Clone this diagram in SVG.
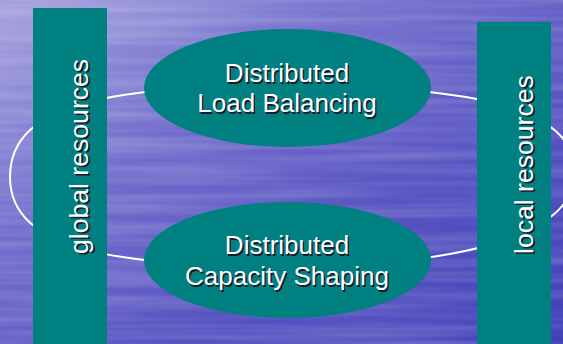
<svg xmlns="http://www.w3.org/2000/svg" width="563" height="344" viewBox="0 0 563 344">
<style>
.shape{fill:#008080;stroke:none}
.lbl{font-family:"Liberation Sans",Arial,sans-serif;font-size:26px;fill:#ffffff}
.shd{font-family:"Liberation Sans",Arial,sans-serif;font-size:26px;fill:#1a1a2a}
.vt{font-size:26.6px}
.loop{fill:none;stroke:#ffffff;stroke-width:2}
</style>
<defs>
<linearGradient id="bg" x1="0" y1="0" x2="1" y2="1">
<stop offset="0" stop-color="#a6a2de"/>
<stop offset="0.35" stop-color="#716dcc"/>
<stop offset="0.7" stop-color="#5450c0"/>
<stop offset="1" stop-color="#4040b8"/>
</linearGradient>
<filter id="tex" x="0" y="0" width="100%" height="100%">
<feTurbulence type="fractalNoise" baseFrequency="0.004 0.12" numOctaves="2" seed="3" result="n"/>
<feColorMatrix in="n" type="matrix" values="0 0 0 0 1  0 0 0 0 1  0 0 0 0 1  0 0 0 0.35 -0.12"/>
</filter>
</defs>
<rect id="background" x="0" y="0" width="563" height="344" fill="url(#bg)"/>
<rect x="0" y="0" width="563" height="344" filter="url(#tex)"/>
<g id="connectors">
<path class="loop" d="M287 86 C120 86 10 100 10 177 C10 252 120 266 287 266 C454 266 575 238 575 172 C575 102 454 86 287 86 Z"/>
</g>
<g id="global-resources">
<rect class="shape" x="33" y="8" width="74" height="336"/>
<text class="shd vt" transform="translate(89.5,255.5) rotate(-90)">global resources</text>
<text class="lbl vt" transform="translate(88,254) rotate(-90)">global resources</text>
</g>
<g id="local-resources">
<rect class="shape" x="477" y="22" width="74" height="322"/>
<text class="shd vt" transform="translate(534.5,255.5) rotate(-90)">local resources</text>
<text class="lbl vt" transform="translate(533,254) rotate(-90)">local resources</text>
</g>
<g id="load-balancing">
<ellipse class="shape" cx="287.5" cy="88" rx="143.5" ry="59"/>
<text class="shd" text-anchor="middle" x="288.5" y="83.5">Distributed</text>
<text class="shd" text-anchor="middle" x="288.5" y="113.5">Load Balancing</text>
<text class="lbl" text-anchor="middle" x="287" y="82">Distributed</text>
<text class="lbl" text-anchor="middle" x="287" y="112">Load Balancing</text>
</g>
<g id="capacity-shaping">
<ellipse class="shape" cx="287.5" cy="260" rx="143.5" ry="58"/>
<text class="shd" text-anchor="middle" x="288.5" y="255.5">Distributed</text>
<text class="shd" text-anchor="middle" x="288.5" y="286.5">Capacity Shaping</text>
<text class="lbl" text-anchor="middle" x="287" y="254">Distributed</text>
<text class="lbl" text-anchor="middle" x="287" y="285">Capacity Shaping</text>
</g>
</svg>
